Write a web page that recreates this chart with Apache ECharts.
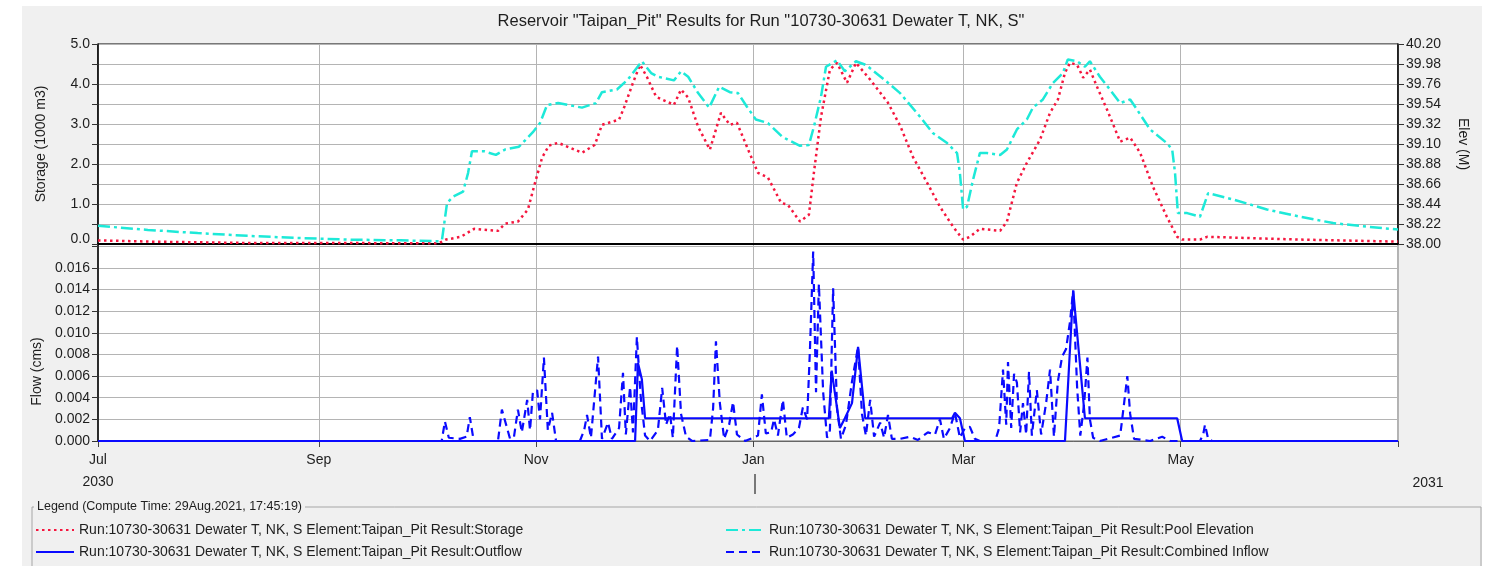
<!DOCTYPE html>
<html>
<head>
<meta charset="utf-8">
<title>Reservoir Taipan_Pit</title>
<script src="https://cdn.jsdelivr.net/npm/echarts@6.0.0/dist/echarts.min.js"></script>
<style>
  html, body { margin: 0; padding: 0; background: #fff; }
  #chart { width: 1494px; height: 566px; }
</style>
</head>
<body>
<div id="chart"></div>
<script>
// days counted from 1 Jul 2030
const startDate = '2030-07-01';
const monthTicks = ['2030-07-01', '2030-09-01', '2030-11-01', '2031-01-01', '2031-03-01', '2031-05-01', '2031-07-01'];
const monthNames = ['Jan', 'Feb', 'Mar', 'Apr', 'May', 'Jun', 'Jul', 'Aug', 'Sep', 'Oct', 'Nov', 'Dec'];

const storageName = 'Run:10730-30631 Dewater T, NK, S Element:Taipan_Pit Result:Storage';
const poolName = 'Run:10730-30631 Dewater T, NK, S Element:Taipan_Pit Result:Pool Elevation';
const outflowName = 'Run:10730-30631 Dewater T, NK, S Element:Taipan_Pit Result:Outflow';
const inflowName = 'Run:10730-30631 Dewater T, NK, S Element:Taipan_Pit Result:Combined Inflow';

// storage (1000 m3)
const storagePts = [
  [0, 0.09], [14.6, 0.06], [42.7, 0.025], [95.7, 0.02], [97.7, 0.11], [101.9, 0.18], [105.6, 0.38],
  [112.3, 0.33], [114.3, 0.51], [117.9, 0.56], [120.7, 0.86], [122.7, 1.53], [124.7, 2.16], [126.6, 2.46],
  [129.2, 2.53], [135.9, 2.28], [139.5, 2.48], [141.5, 2.98], [146.3, 3.11], [147.7, 3.41], [150.2, 4.03],
  [152.2, 4.48], [154.1, 4.18], [156.7, 3.68], [161.7, 3.48], [163.7, 3.86], [165.7, 3.66], [168.5, 2.93],
  [171.8, 2.36], [174.9, 3.28], [177.4, 2.98], [179.4, 3.03], [182.2, 2.43], [185.3, 1.78], [188.1, 1.66],
  [191.8, 1.03], [193.7, 0.98], [197.1, 0.56], [199.6, 0.73], [201, 1.78], [203, 3.18], [205.5, 4.36],
  [207.5, 4.53], [210.3, 4.03], [212.8, 4.53], [216.8, 4.11], [221.8, 3.53], [225.2, 2.96], [228.8, 2.18],
  [232.8, 1.53], [236.4, 0.93], [240.1, 0.43], [242.9, 0.11], [244.8, 0.18], [247.6, 0.38], [253.3, 0.33],
  [255.2, 0.56], [258, 1.53], [260.8, 2.03], [264.5, 2.61], [267.3, 3.28], [269.5, 3.61], [271.5, 4.28],
  [272.9, 4.53], [274.9, 4.48], [276.6, 4.16], [278.5, 4.36], [280.5, 3.93], [283.3, 3.36], [287, 2.56],
  [289.8, 2.66], [292.6, 2.28], [296.2, 1.43], [300.1, 0.68], [303, 0.18], [304.4, 0.11], [309.4, 0.11],
  [311.4, 0.18], [318.7, 0.16], [337.5, 0.11], [365, 0.06]
];

// pool elevation (M)
const poolPts = [
  [0, 38.20], [14, 38.155], [28, 38.12], [42, 38.09], [56, 38.066], [71, 38.048], [85, 38.04], [95.7, 38.03],
  [96.6, 38.05], [98, 38.45], [99.7, 38.52], [102.5, 38.575], [103.9, 38.78], [105, 39.02], [108.4, 39.02],
  [111.7, 38.98], [114.3, 39.04], [118.2, 39.07], [122.1, 39.23], [124.1, 39.33], [126.1, 39.53], [129.2, 39.55],
  [135.9, 39.50], [139.8, 39.55], [141.5, 39.67], [145.7, 39.70], [148.8, 39.81], [152.7, 40.01], [155.3, 39.88],
  [157.2, 39.84], [161.7, 39.80], [163.7, 39.90], [165.7, 39.84], [168.5, 39.66], [171.6, 39.50], [174.4, 39.73],
  [177.4, 39.67], [179.7, 39.66], [182.2, 39.51], [184.7, 39.37], [188.1, 39.33], [192.1, 39.18], [194, 39.14],
  [197.1, 39.08], [199.6, 39.09], [201, 39.29], [203, 39.62], [204.4, 39.95], [207.5, 40.02], [209.7, 39.90],
  [212.8, 40.01], [215.6, 39.97], [220.7, 39.81], [225.2, 39.66], [230.8, 39.40], [234.4, 39.22], [238.4, 39.11],
  [241.2, 39.00], [242, 38.78], [242.9, 38.38], [244, 38.41], [245.7, 38.71], [247.6, 39.00], [249.6, 39.00],
  [253.3, 38.98], [255.2, 39.04], [258, 39.26], [260.8, 39.37], [262.5, 39.50], [265.3, 39.59], [268.1, 39.77],
  [270.9, 39.88], [272.3, 40.03], [274.9, 40.01], [277.1, 39.95], [278.5, 40.01], [281.3, 39.84], [284.1, 39.70],
  [287, 39.55], [289.8, 39.59], [291.7, 39.48], [295.4, 39.26], [300.1, 39.11], [301.6, 39.04], [302.4, 38.78],
  [303.2, 38.34], [305.8, 38.34], [309.4, 38.30], [311.7, 38.56], [318.7, 38.49], [328.2, 38.38], [337.5, 38.30],
  [346.8, 38.23], [356.3, 38.19], [365, 38.16]
];

// outflow (cms)
const outflowPts = [
  [0, 0], [150.8, 0], [151.6, 0.0072], [152.7, 0.0057], [153.6, 0.0021], [205.2, 0.0021], [206, 0.0065],
  [208.3, 0.0012], [209.7, 0.0021], [211.7, 0.0035], [213.4, 0.0087], [215.4, 0.0021], [239.8, 0.0021],
  [240.6, 0.0026], [242, 0.0021], [243.4, 0], [271.5, 0], [273.8, 0.0139], [277.1, 0.0021], [303, 0.0021],
  [304.4, 0], [365, 0]
];

// combined inflow (cms)
const inflowPts = [
  [0, 0], [96.5, 0], [97.4, 0.0018], [98.5, 0.0003], [101.6, 0.0002], [103.5, 0.0004], [104.4, 0.0022], [105.5, 0],
  [112.3, 0], [113.4, 0.0029], [115.7, 0.0002], [116.8, 0.0004], [117.9, 0.0029], [119, 0.0008], [120.5, 0.0038],
  [121.3, 0.001], [122.1, 0.0045], [123.3, 0.0047], [124.1, 0.002], [125.2, 0.0077], [126.3, 0.001], [127.5, 0.0026],
  [128.6, 0], [135.3, 0], [136.5, 0.001], [137.3, 0.0024], [138.4, 0.0003], [140.4, 0.0078], [141.5, 0.0002],
  [143.2, 0.0017], [144.3, 0.0002], [146.3, 0.0012], [147.4, 0.0063], [148.2, 0.0006], [149.4, 0.005], [150.2, 0.0008],
  [151.3, 0.0096], [152.4, 0.004], [153.6, 0.0005], [155, 0], [157.2, 0.001], [158.4, 0.0049], [159.5, 0.0015],
  [160.6, 0.0025], [161.4, 0.0003], [162.6, 0.0088], [163.7, 0.0025], [165.1, 0.0004], [166.8, 0], [171.8, 0.0001],
  [172.7, 0.003], [173.5, 0.0092], [174.6, 0.0035], [175.8, 0.0002], [177.2, 0.0015], [178.3, 0.0036], [179.4, 0.0006],
  [181.7, 0], [185.3, 0.0005], [186.4, 0.0043], [187.5, 0.0007], [189, 0.0008], [189.8, 0.002], [190.9, 0.0005],
  [192.3, 0.0038], [193.4, 0.0003], [195.1, 0.0006], [196.8, 0.0012], [197.9, 0.0031], [199.1, 0.002], [199.9, 0.0085],
  [200.8, 0.0175], [201.6, 0.0045], [202.4, 0.0145], [203.6, 0.0045], [204.7, 0.0003], [205.5, 0.001], [206.4, 0.0141],
  [207.5, 0.003], [208.6, 0.0002], [210, 0.0015], [211.7, 0.0055], [213.4, 0.0087], [214.5, 0.0025], [215.6, 0.0005],
  [216.8, 0.0038], [217.9, 0.0004], [219.6, 0.0017], [220.7, 0.0003], [221.8, 0.0024], [222.9, 0.0002], [225.2, 0.0002],
  [228, 0.0004], [230.2, 0.0001], [233, 0.0008], [235, 0.0006], [236.4, 0.002], [237.5, 0.0002], [239.2, 0.0012],
  [240.6, 0.0026], [242, 0.0003], [243.4, 0.0012], [244.8, 0.0013], [246.2, 0.0002], [247.6, 0], [251.9, 0],
  [253, 0.0012], [254.1, 0.0066], [255, 0.0015], [255.5, 0.0073], [256.4, 0.0012], [257.2, 0.0062], [258, 0.0054],
  [258.9, 0.0008], [259.7, 0.0035], [260.6, 0.0006], [261.4, 0.0064], [262.2, 0.0005], [263.6, 0.0047], [264.8, 0.0006],
  [266.2, 0.0035], [267.3, 0.0066], [268.4, 0.0004], [269.5, 0.0055], [270.7, 0.0078], [271.8, 0.0085], [272.9, 0.011],
  [273.8, 0.0139], [274.9, 0.005], [275.8, 0.0005], [276.9, 0.0035], [277.8, 0.0077], [278.5, 0.002], [279.4, 0.0003],
  [281.3, 0], [287, 0.0005], [288.1, 0.0035], [289, 0.006], [289.8, 0.0025], [290.9, 0.0002], [295.4, 0],
  [298.8, 0.0004], [301, 0], [309.4, 0], [310.3, 0.0006], [310.8, 0.0015], [311.7, 0.0002], [312.8, 0], [365, 0]
];

const DAY = 86400000;
function parseDay(s) {
  const p = s.split('-').map(Number);
  return new Date(p[0], p[1] - 1, p[2]).getTime();
}
const t0 = parseDay(startDate);
const toTime = pts => pts.map(p => [t0 + p[0] * DAY, p[1]]);
const ticks = monthTicks.map(parseDay);
const labelTicks = ticks.slice(0, 6);

const font = '"Liberation Sans", Arial, sans-serif';
const textColor = '#1e1e1e';
const gridLine = { show: true, lineStyle: { color: '#b4b4b4', width: 1 } };

// one legend block per entry, laid out as two columns
function legendAt(name, left, top) {
  return {
    left: left, top: top, padding: 0, itemWidth: 38, itemHeight: 14,
    itemStyle: { opacity: 0 },
    textStyle: { fontSize: 14, color: textColor, fontFamily: font },
    data: [name]
  };
}

const chart = echarts.init(document.getElementById('chart'));

chart.setOption({
  backgroundColor: '#f0f0f0',
  animation: false,
  textStyle: { fontFamily: font },
  title: {
    text: 'Reservoir "Taipan_Pit" Results for Run "10730-30631 Dewater T, NK, S"',
    left: 756,
    top: 8,
    textAlign: 'center',
    textStyle: { fontSize: 16.5, fontWeight: 'normal', color: textColor, fontFamily: font }
  },
  grid: [
    { left: 98, right: 96, top: 44, height: 200, show: true, backgroundColor: '#fff', borderColor: '#000', borderWidth: 1 },
    { left: 98, right: 96, top: 244, height: 197, show: true, backgroundColor: '#fff', borderColor: '#666', borderWidth: 1 }
  ],
  xAxis: [
    {
      type: 'value', gridIndex: 0, min: ticks[0], max: ticks[6],
      axisLine: { show: true, onZero: false, lineStyle: { color: '#000', width: 2 } },
      axisTick: { show: false, customValues: ticks },
      axisLabel: { show: false },
      splitLine: gridLine
    },
    {
      type: 'value', gridIndex: 1, min: ticks[0], max: ticks[6],
      axisLine: { show: true, onZero: false, lineStyle: { color: '#666', width: 1 } },
      axisTick: { show: true, length: 6, customValues: ticks, lineStyle: { color: '#444' } },
      axisLabel: {
        customValues: labelTicks,
        margin: 8,
        fontSize: 14,
        lineHeight: 22,
        color: textColor,
        formatter: function (v) {
          const d = new Date(v);
          const m = monthNames[d.getMonth()];
          return v === ticks[0] ? m + '\n' + d.getFullYear() : m;
        }
      },
      splitLine: gridLine
    }
  ],
  yAxis: [
    {
      type: 'value', gridIndex: 0, min: 0, max: 5, interval: 0.5,
      name: 'Storage (1000 m3)', nameLocation: 'middle', nameGap: 50, nameRotate: 90,
      nameTextStyle: { fontSize: 14, color: textColor },
      axisLine: { show: true, lineStyle: { color: '#000', width: 1.5 } },
      axisTick: { show: true, length: 6, lineStyle: { color: '#333' } },
      axisLabel: {
        fontSize: 14, color: textColor, margin: 8,
        formatter: function (v) {
          if (Math.abs(v - Math.round(v)) > 1e-6) return '';
          return v === 0 ? '{z|0.0}' : v.toFixed(1);
        },
        rich: { z: { fontSize: 14, color: textColor, padding: [0, 0, 10, 0] } }
      },
      splitLine: gridLine
    },
    {
      type: 'value', gridIndex: 0, position: 'right', min: 38, max: 40.2, interval: 0.22,
      name: 'Elev (M)', nameLocation: 'middle', nameGap: 58, nameRotate: -90,
      nameTextStyle: { fontSize: 14, color: textColor },
      axisLine: { show: true, lineStyle: { color: '#000', width: 1.5 } },
      axisTick: { show: true, length: 6, lineStyle: { color: '#333' } },
      axisLabel: { fontSize: 14, color: textColor, margin: 8, formatter: v => v.toFixed(2) },
      splitLine: { show: false }
    },
    {
      type: 'value', gridIndex: 1, min: 0, max: 0.0182, interval: 0.002,
      name: 'Flow (cms)', nameLocation: 'middle', nameGap: 50, nameRotate: 90,
      nameTextStyle: { fontSize: 14, color: textColor, padding: [0, 58, 0, 0] },
      axisLine: { show: true, lineStyle: { color: '#000', width: 1.5 } },
      axisTick: { show: true, length: 6, lineStyle: { color: '#333' } },
      axisLabel: {
        fontSize: 14, color: textColor, margin: 8,
        formatter: v => (v > 0.0171 ? '' : v.toFixed(3))
      },
      splitLine: gridLine
    }
  ],
  legend: [
    legendAt(storageName, 35, 523),
    legendAt(outflowName, 35, 545),
    legendAt(poolName, 725, 523),
    legendAt(inflowName, 725, 545)
  ],
  graphic: [
    { type: 'rect', silent: true, shape: { x: 0, y: 0, width: 22, height: 566 }, style: { fill: '#fff' } },
    { type: 'rect', silent: true, shape: { x: 0, y: 0, width: 1494, height: 6 }, style: { fill: '#fff' } },
    { type: 'rect', silent: true, shape: { x: 1482, y: 0, width: 12, height: 566 }, style: { fill: '#fff' } },
    {
      type: 'polyline', silent: true,
      shape: { points: [[32, 566], [32, 507], [1481, 507], [1481, 566]] },
      style: { stroke: '#a6a6a6', fill: null, lineWidth: 1 }
    },
    {
      type: 'text', silent: true, x: 34, y: 507,
      style: {
        text: 'Legend (Compute Time: 29Aug.2021, 17:45:19)',
        fontSize: 12.5, fill: textColor, verticalAlign: 'middle', fontFamily: font,
        backgroundColor: '#f0f0f0', padding: [0, 3]
      }
    },
    {
      type: 'text', silent: true, x: 1428, y: 483,
      style: { text: '2031', fontSize: 14, fill: textColor, align: 'center', verticalAlign: 'middle', fontFamily: font }
    },
    {
      type: 'line', silent: true, shape: { x1: 755, y1: 474, x2: 755, y2: 494 },
      style: { stroke: '#000', lineWidth: 1 }
    }
  ],
  series: [
    {
      name: storageName, type: 'line', xAxisIndex: 0, yAxisIndex: 0,
      symbol: 'none', data: toTime(storagePts),
      lineStyle: { color: '#f5163e', width: 2.5, type: [2.5, 3.5] },
      itemStyle: { color: '#f5163e' }
    },
    {
      name: poolName, type: 'line', xAxisIndex: 0, yAxisIndex: 1,
      symbol: 'none', data: toTime(poolPts),
      lineStyle: { color: '#1de9d8', width: 2.5, type: [12, 4, 3, 4] },
      itemStyle: { color: '#1de9d8' }
    },
    {
      name: outflowName, type: 'line', xAxisIndex: 1, yAxisIndex: 2,
      symbol: 'none', data: toTime(outflowPts),
      lineStyle: { color: '#0a0aff', width: 2.2 },
      itemStyle: { color: '#0a0aff' }
    },
    {
      name: inflowName, type: 'line', xAxisIndex: 1, yAxisIndex: 2,
      symbol: 'none', data: toTime(inflowPts),
      lineStyle: { color: '#0a0aff', width: 2.2, type: [8, 5] },
      itemStyle: { color: '#0a0aff' }
    }
  ]
});
</script>
</body>
</html>
